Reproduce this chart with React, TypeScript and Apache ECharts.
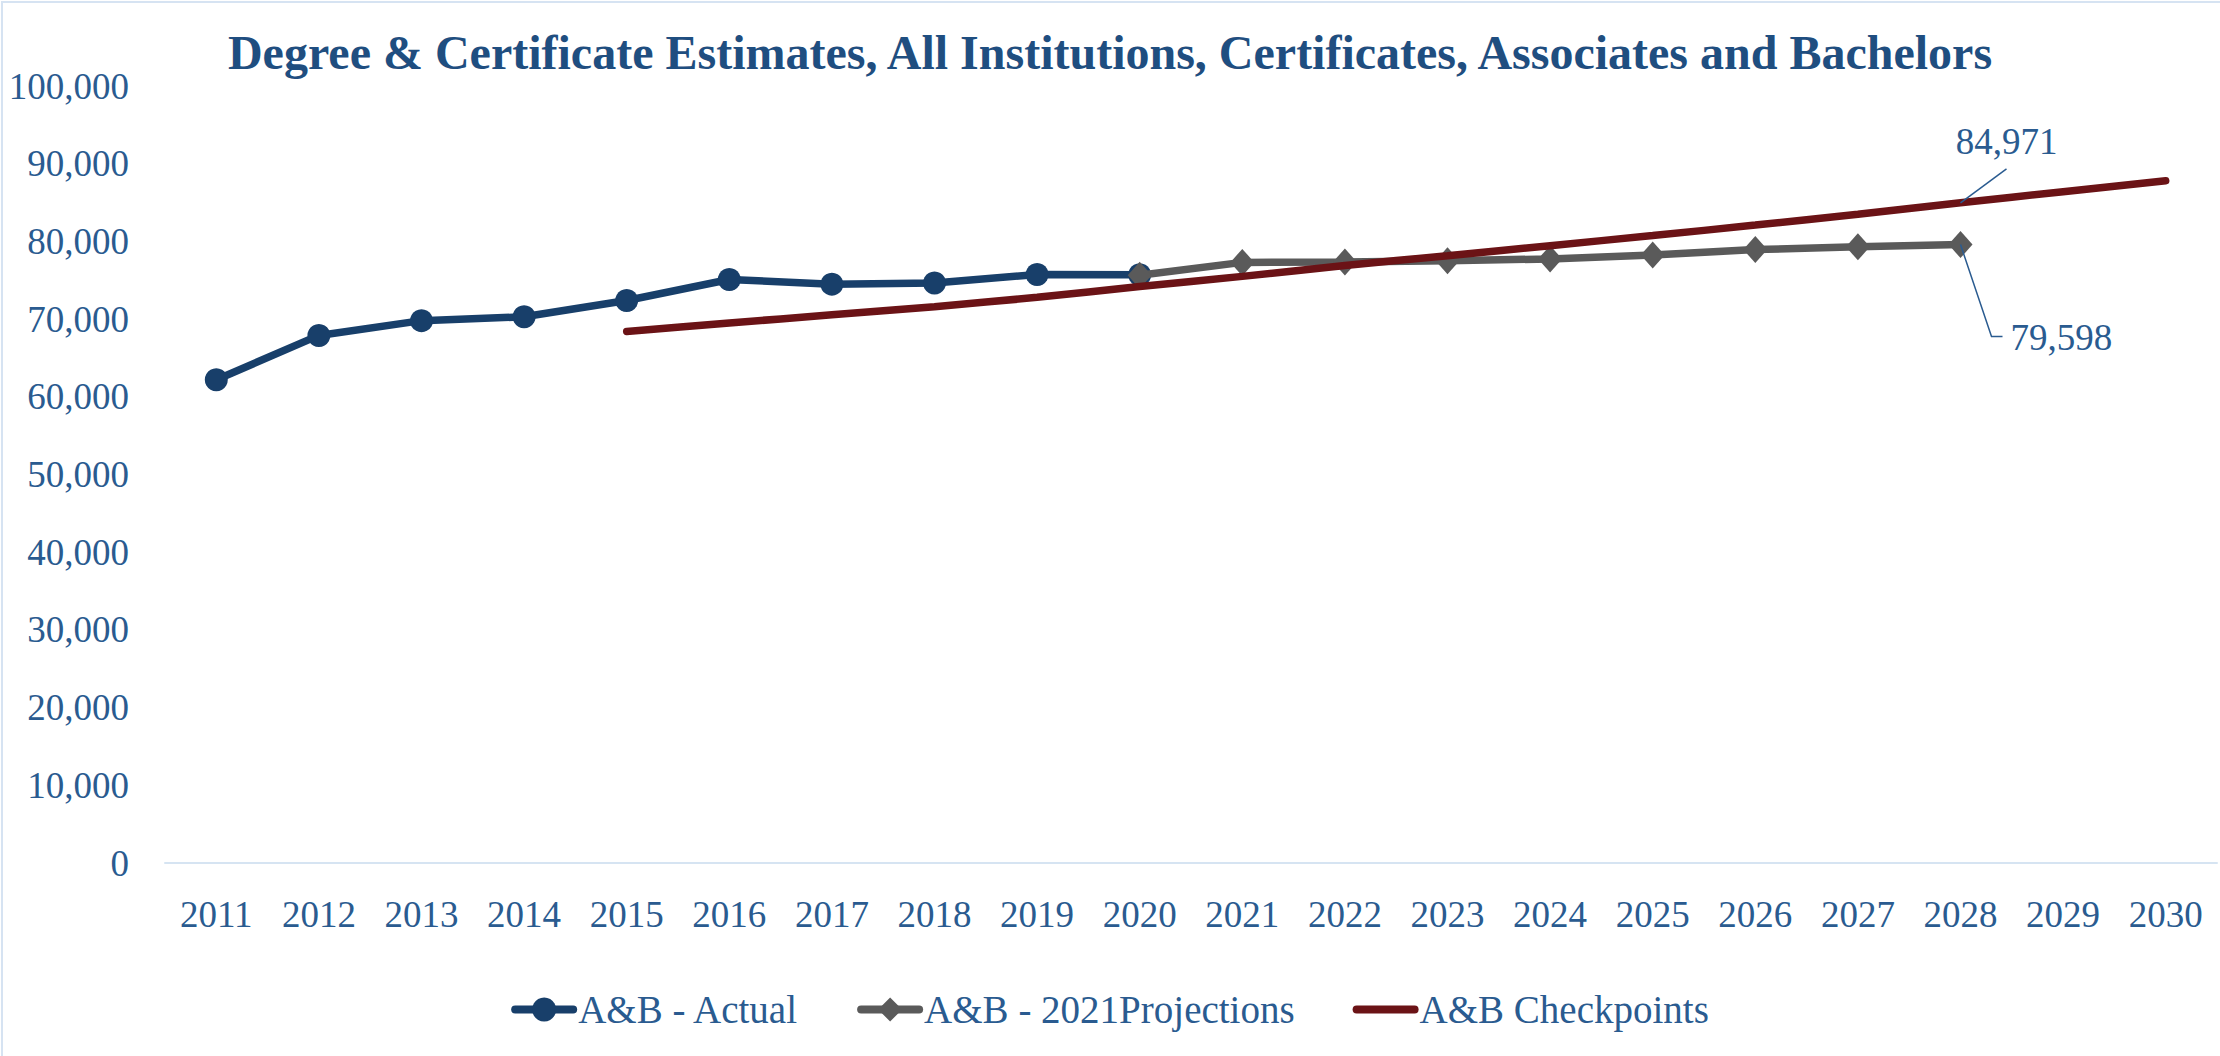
import React, { useEffect, useRef } from "react";
import * as echarts from "echarts";

const years = ["2011","2012","2013","2014","2015","2016","2017","2018","2019","2020","2021","2022","2023","2024","2025","2026","2027","2028","2029","2030"];
const actual = [62200, 67900, 69800, 70300, 72400, 75100, 74500, 74650, 75750, 75700, null, null, null, null, null, null, null, null, null, null];
const projections = [null, null, null, null, null, null, null, null, null, 75650, 77300, 77350, 77500, 77750, 78250, 78950, 79300, 79598, null, null];
const checkpoints = [null, null, null, null, 68400, 69500, 70550, 71600, 72800, 74200, 75500, 76900, 78150, 79450, 80750, 82100, 83500, 84971, 86400, 87800];

const BLUE_TEXT = "#2A5B90";
const fmt = (v: number) => Math.round(v).toLocaleString("en-US");

export default function App() {
  const ref = useRef<HTMLDivElement>(null);
  useEffect(() => {
    document.body.style.margin = "0";
    const chart = echarts.init(ref.current!, null, { renderer: "svg" });
    const font = "'Liberation Serif', 'DejaVu Serif', serif";
    const labelIdx = 17;
    chart.setOption({
      animation: false,
      backgroundColor: "#ffffff",
      textStyle: { fontFamily: font },
      title: {
        text: "Degree & Certificate Estimates, All Institutions, Certificates, Associates and Bachelors",
        left: "center",
        top: 23,
        textStyle: { fontFamily: font, fontSize: 48, fontWeight: "bold", color: "#1F4E80" },
      },
      legend: {
        bottom: 22,
        left: "center",
        itemWidth: 58,
        itemHeight: 30,
        itemGap: 58,
        lineStyle: { width: 8, cap: "round" },
        textStyle: { fontFamily: font, fontSize: 39, color: BLUE_TEXT },
        data: [
          "A&B - Actual",
          "A&B - 2021Projections",
          { name: "A&B Checkpoints", itemStyle: { opacity: 0 } },
        ],
      },
      grid: { left: 165, right: 3, top: 86, bottom: 193, containLabel: false },
      xAxis: {
        type: "category",
        data: years,
        boundaryGap: true,
        axisLine: { lineStyle: { color: "#D6E4F2", width: 2 } },
        axisTick: { show: false },
        axisLabel: { fontFamily: font, fontSize: 37, color: BLUE_TEXT, margin: 33 },
      },
      yAxis: {
        type: "value",
        min: 0,
        max: 100000,
        interval: 10000,
        axisLine: { show: false },
        axisTick: { show: false },
        splitLine: { show: false },
        axisLabel: { fontFamily: font, fontSize: 37, color: BLUE_TEXT, margin: 36, formatter: (v: number) => fmt(v) },
      },
      series: [
        {
          name: "A&B - Actual",
          type: "line",
          data: actual,
          symbol: "circle",
          symbolSize: 23,
          lineStyle: { color: "#183F6A", width: 7.5 },
          itemStyle: { color: "#183F6A" },
          z: 2,
        },
        {
          name: "A&B - 2021Projections",
          type: "line",
          data: projections,
          symbol: "diamond",
          symbolSize: [24, 27],
          lineStyle: { color: "#5A5A5A", width: 7.5 },
          itemStyle: { color: "#5A5A5A" },
          z: 3,
        },
        {
          name: "A&B Checkpoints",
          type: "line",
          data: checkpoints,
          smooth: 0.2,
          symbol: "none",
          lineStyle: { color: "#6B1316", width: 7.5, cap: "round" },
          itemStyle: { color: "#6B1316" },
          z: 4,
        },
      ],
    });

    const pc = chart.convertToPixel({ xAxisIndex: 0, yAxisIndex: 0 }, [labelIdx, checkpoints[labelIdx] as number]);
    const pp = chart.convertToPixel({ xAxisIndex: 0, yAxisIndex: 0 }, [labelIdx, projections[labelIdx] as number]);
    const lineStyle = { stroke: "#2A5B90", lineWidth: 1.5, fill: "none" };
    chart.setOption({
      graphic: [
        {
          type: "rect",
          shape: { x: 2, y: 2, width: 2230, height: 1100 },
          style: { fill: "none", stroke: "#D6E3F2", lineWidth: 2 },
          silent: true,
          z: 0,
        },
        {
          type: "polyline",
          shape: { points: [[pc[0], pc[1]], [pc[0] + 46, pc[1] - 34]] },
          style: lineStyle,
          z: 100,
        },
        {
          type: "text",
          x: pc[0] + 46,
          y: pc[1] - 61,
          style: {
            text: fmt(checkpoints[labelIdx] as number),
            fontFamily: font,
            fontSize: 37,
            fill: BLUE_TEXT,
            textAlign: "center",
            textVerticalAlign: "middle",
          },
          z: 100,
        },
        {
          type: "polyline",
          shape: { points: [[pp[0], pp[1]], [pp[0] + 31, pp[1] + 92], [pp[0] + 42, pp[1] + 92]] },
          style: lineStyle,
          z: 100,
        },
        {
          type: "text",
          x: pp[0] + 50,
          y: pp[1] + 93,
          style: {
            text: fmt(projections[labelIdx] as number),
            fontFamily: font,
            fontSize: 37,
            fill: BLUE_TEXT,
            textAlign: "left",
            textVerticalAlign: "middle",
          },
          z: 100,
        },
      ],
    });
    return () => chart.dispose();
  }, []);
  return <div ref={ref} style={{ width: 2220, height: 1056 }} />;
}
